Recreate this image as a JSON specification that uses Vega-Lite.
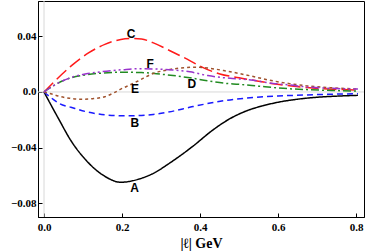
{
  "$schema": "https://vega.github.io/schema/vega-lite/v6.json",
  "autosize": "none",
  "width": 326,
  "height": 216,
  "padding": {"left": 38, "top": 1, "right": 2, "bottom": 35},
  "background": "white",
  "config": {
    "view": {"stroke": "black", "strokeWidth": 1},
    "axis": {
      "labelFont": "Liberation Serif",
      "labelFontWeight": "bold",
      "labelFontSize": 11,
      "labelColor": "black",
      "tickColor": "black",
      "domainColor": "black",
      "grid": false,
      "tickSize": -4,
      "titleFont": "Liberation Serif",
      "titleFontWeight": "bold",
      "titleFontSize": 14,
      "titleColor": "black"
    }
  },
  "datasets": {
    "curves": [
      {"s": "A", "x": 0, "y": 0}, {"s": "A", "x": 0.036, "y": -0.0186}, {"s": "A", "x": 0.069, "y": -0.035}, {"s": "A", "x": 0.113, "y": -0.0507}, {"s": "A", "x": 0.156, "y": -0.0607}, {"s": "A", "x": 0.197, "y": -0.065}, {"s": "A", "x": 0.241, "y": -0.0629}, {"s": "A", "x": 0.285, "y": -0.0579}, {"s": "A", "x": 0.318, "y": -0.052}, {"s": "A", "x": 0.382, "y": -0.039}, {"s": "A", "x": 0.43, "y": -0.028}, {"s": "A", "x": 0.469, "y": -0.0205}, {"s": "A", "x": 0.52, "y": -0.0135}, {"s": "A", "x": 0.56, "y": -0.01}, {"s": "A", "x": 0.6, "y": -0.0074}, {"s": "A", "x": 0.65, "y": -0.0052}, {"s": "A", "x": 0.7, "y": -0.0038}, {"s": "A", "x": 0.75, "y": -0.003}, {"s": "A", "x": 0.805, "y": -0.0024},
      {"s": "B", "x": 0, "y": 0}, {"s": "B", "x": 0.02, "y": -0.0045}, {"s": "B", "x": 0.041, "y": -0.0086}, {"s": "B", "x": 0.069, "y": -0.011}, {"s": "B", "x": 0.113, "y": -0.0145}, {"s": "B", "x": 0.156, "y": -0.0164}, {"s": "B", "x": 0.2, "y": -0.0171}, {"s": "B", "x": 0.241, "y": -0.017}, {"s": "B", "x": 0.28, "y": -0.0162}, {"s": "B", "x": 0.318, "y": -0.0145}, {"s": "B", "x": 0.382, "y": -0.0105}, {"s": "B", "x": 0.43, "y": -0.0078}, {"s": "B", "x": 0.469, "y": -0.006}, {"s": "B", "x": 0.52, "y": -0.0044}, {"s": "B", "x": 0.554, "y": -0.0036}, {"s": "B", "x": 0.6, "y": -0.0029}, {"s": "B", "x": 0.674, "y": -0.0021}, {"s": "B", "x": 0.74, "y": -0.0016}, {"s": "B", "x": 0.805, "y": -0.0012},
      {"s": "C", "x": 0, "y": 0}, {"s": "C", "x": 0.03, "y": 0.0085}, {"s": "C", "x": 0.069, "y": 0.0186}, {"s": "C", "x": 0.113, "y": 0.0279}, {"s": "C", "x": 0.156, "y": 0.0343}, {"s": "C", "x": 0.197, "y": 0.0378}, {"s": "C", "x": 0.225, "y": 0.0385}, {"s": "C", "x": 0.25, "y": 0.0382}, {"s": "C", "x": 0.279, "y": 0.0355}, {"s": "C", "x": 0.323, "y": 0.0297}, {"s": "C", "x": 0.367, "y": 0.0236}, {"s": "C", "x": 0.408, "y": 0.0175}, {"s": "C", "x": 0.451, "y": 0.013}, {"s": "C", "x": 0.5, "y": 0.0102}, {"s": "C", "x": 0.55, "y": 0.0078}, {"s": "C", "x": 0.587, "y": 0.006}, {"s": "C", "x": 0.63, "y": 0.0045}, {"s": "C", "x": 0.674, "y": 0.0032}, {"s": "C", "x": 0.74, "y": 0.002}, {"s": "C", "x": 0.805, "y": 0.0014},
      {"s": "D", "x": 0, "y": 0}, {"s": "D", "x": 0.03, "y": 0.0055}, {"s": "D", "x": 0.067, "y": 0.01}, {"s": "D", "x": 0.1, "y": 0.012}, {"s": "D", "x": 0.14, "y": 0.0134}, {"s": "D", "x": 0.2, "y": 0.0142}, {"s": "D", "x": 0.25, "y": 0.014}, {"s": "D", "x": 0.3, "y": 0.0128}, {"s": "D", "x": 0.35, "y": 0.0112}, {"s": "D", "x": 0.374, "y": 0.0102}, {"s": "D", "x": 0.41, "y": 0.0085}, {"s": "D", "x": 0.46, "y": 0.0064}, {"s": "D", "x": 0.5, "y": 0.0055}, {"s": "D", "x": 0.55, "y": 0.0042}, {"s": "D", "x": 0.6, "y": 0.0029}, {"s": "D", "x": 0.674, "y": 0.0017}, {"s": "D", "x": 0.74, "y": 0.0011}, {"s": "D", "x": 0.805, "y": 0.0007},
      {"s": "E", "x": 0, "y": 0}, {"s": "E", "x": 0.02, "y": -0.0015}, {"s": "E", "x": 0.036, "y": -0.0029}, {"s": "E", "x": 0.065, "y": -0.0045}, {"s": "E", "x": 0.095, "y": -0.0052}, {"s": "E", "x": 0.125, "y": -0.0048}, {"s": "E", "x": 0.156, "y": -0.0034}, {"s": "E", "x": 0.18, "y": -0.0005}, {"s": "E", "x": 0.197, "y": 0.0021}, {"s": "E", "x": 0.22, "y": 0.005}, {"s": "E", "x": 0.241, "y": 0.0079}, {"s": "E", "x": 0.279, "y": 0.0132}, {"s": "E", "x": 0.323, "y": 0.0162}, {"s": "E", "x": 0.36, "y": 0.0175}, {"s": "E", "x": 0.39, "y": 0.0178}, {"s": "E", "x": 0.42, "y": 0.0172}, {"s": "E", "x": 0.469, "y": 0.015}, {"s": "E", "x": 0.521, "y": 0.0121}, {"s": "E", "x": 0.587, "y": 0.008}, {"s": "E", "x": 0.63, "y": 0.006}, {"s": "E", "x": 0.674, "y": 0.0044}, {"s": "E", "x": 0.74, "y": 0.003}, {"s": "E", "x": 0.805, "y": 0.0021},
      {"s": "F", "x": 0, "y": 0}, {"s": "F", "x": 0.03, "y": 0.0055}, {"s": "F", "x": 0.067, "y": 0.0102}, {"s": "F", "x": 0.1, "y": 0.0126}, {"s": "F", "x": 0.15, "y": 0.0147}, {"s": "F", "x": 0.2, "y": 0.016}, {"s": "F", "x": 0.246, "y": 0.0168}, {"s": "F", "x": 0.29, "y": 0.0165}, {"s": "F", "x": 0.33, "y": 0.0158}, {"s": "F", "x": 0.374, "y": 0.0145}, {"s": "F", "x": 0.42, "y": 0.0118}, {"s": "F", "x": 0.46, "y": 0.0103}, {"s": "F", "x": 0.5, "y": 0.0094}, {"s": "F", "x": 0.53, "y": 0.0086}, {"s": "F", "x": 0.587, "y": 0.0062}, {"s": "F", "x": 0.631, "y": 0.005}, {"s": "F", "x": 0.674, "y": 0.0036}, {"s": "F", "x": 0.74, "y": 0.0026}, {"s": "F", "x": 0.805, "y": 0.0021}
    ],
    "labels": [
      {"s": "A", "x": 0.232, "y": -0.0688},
      {"s": "B", "x": 0.233, "y": -0.0222},
      {"s": "C", "x": 0.223, "y": 0.0418},
      {"s": "D", "x": 0.379, "y": 0.0058},
      {"s": "E", "x": 0.233, "y": 0.0021},
      {"s": "F", "x": 0.272, "y": 0.0198}
    ],
    "zeros": [{"v": 0}]
  },
  "layer": [
    {
      "data": {"name": "zeros"},
      "mark": {"type": "rule", "color": "#d8d8d8", "strokeWidth": 1},
      "encoding": {"x": {"field": "v", "type": "quantitative", "scale": {"domain": [-0.0154, 0.8205], "nice": false, "zero": false}}}
    },
    {
      "data": {"name": "zeros"},
      "mark": {"type": "rule", "color": "#d8d8d8", "strokeWidth": 1},
      "encoding": {"y": {"field": "v", "type": "quantitative", "scale": {"domain": [-0.09, 0.0655], "nice": false, "zero": false}}}
    },
    {
      "data": {"name": "curves"},
      "mark": {"type": "line", "strokeWidth": 1.5, "interpolate": "monotone", "clip": true},
      "encoding": {
        "x": {
          "field": "x", "type": "quantitative",
          "scale": {"domain": [-0.0154, 0.8205], "nice": false, "zero": false},
          "axis": {"values": [0, 0.2, 0.4, 0.6, 0.8], "format": ".1f", "labelPadding": 8, "title": "|ℓ| GeV", "titlePadding": 4}
        },
        "y": {
          "field": "y", "type": "quantitative",
          "scale": {"domain": [-0.09, 0.0655], "nice": false, "zero": false},
          "axis": {"values": [0.04, 0, -0.04, -0.08], "labelExpr": "datum.value == 0 ? '0.0' : format(datum.value, '.2f')", "labelPadding": 6, "title": null}
        },
        "color": {
          "field": "s", "type": "nominal", "legend": null,
          "scale": {"domain": ["A", "B", "C", "D", "E", "F"], "range": ["#000000", "#1a1aff", "#ff1a1a", "#228b22", "#a0522d", "#9933cc"]}
        },
        "strokeDash": {
          "field": "s", "type": "nominal", "legend": null,
          "scale": {"domain": ["A", "B", "C", "D", "E", "F"], "range": [[1, 0], [6, 4], [13, 5], [8, 3, 2, 3], [3, 3], [8, 3, 2, 3, 2, 3]]}
        },
        "detail": {"field": "s"}
      }
    },
    {
      "data": {"name": "labels"},
      "mark": {"type": "text", "font": "Liberation Sans", "fontWeight": "bold", "fontSize": 12, "color": "black", "align": "center", "baseline": "middle"},
      "encoding": {
        "x": {"field": "x", "type": "quantitative"},
        "y": {"field": "y", "type": "quantitative"},
        "text": {"field": "s"}
      }
    }
  ]
}
